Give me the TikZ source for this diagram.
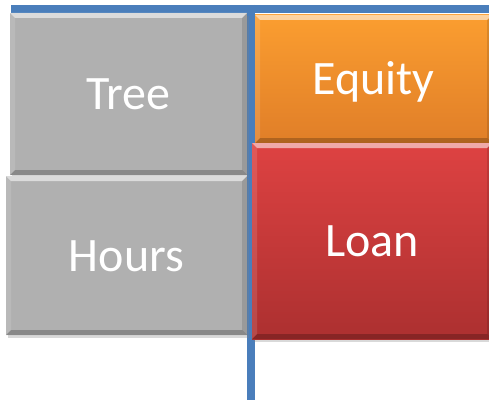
\documentclass[tikz,border=0pt]{standalone}
\usepackage{fontspec}
\setmainfont{Carlito}
\usetikzlibrary{shadows}
\usetikzlibrary{positioning}
\usetikzlibrary{calc}
\definecolor{lineblue}{RGB}{74,126,187}
\definecolor{boxgray}{RGB}{176,176,176}
\definecolor{orangetop}{RGB}{251,158,48}
\definecolor{orangebot}{RGB}{224,126,40}
\definecolor{redtop}{RGB}{222,66,66}
\definecolor{redbot}{RGB}{172,48,48}
\tikzstyle{bevel}=[path picture={
    \fill[white,opacity=0.55] (path picture bounding box.north west) -- (path picture bounding box.north east)
        -- ([xshift=-5pt,yshift=-5pt]path picture bounding box.north east) -- ([xshift=5pt,yshift=-5pt]path picture bounding box.north west) -- cycle;
    \fill[black,opacity=0.22] (path picture bounding box.south west) -- (path picture bounding box.south east)
        -- ([xshift=-5pt,yshift=5pt]path picture bounding box.south east) -- ([xshift=5pt,yshift=5pt]path picture bounding box.south west) -- cycle;
    \fill[black,opacity=0.12] (path picture bounding box.north east) -- (path picture bounding box.south east)
        -- ([xshift=-5pt,yshift=5pt]path picture bounding box.south east) -- ([xshift=-5pt,yshift=-5pt]path picture bounding box.north east) -- cycle;
    \fill[white,opacity=0.12] (path picture bounding box.north west) -- (path picture bounding box.south west)
        -- ([xshift=5pt,yshift=5pt]path picture bounding box.south west) -- ([xshift=5pt,yshift=-5pt]path picture bounding box.north west) -- cycle;
}]
\tikzstyle{block}=[rectangle,draw=none,inner sep=0pt,text=white,font=\fontsize{48}{52}\selectfont,
    text height=31pt,text depth=0pt,bevel,
    drop shadow={shadow xshift=2pt,shadow yshift=-3pt,opacity=0.3}]
\tikzstyle{graybox}=[block,fill=boxgray]
\tikzstyle{orangebox}=[block,top color=orangetop,bottom color=orangebot]
\tikzstyle{redbox}=[block,top color=redtop,bottom color=redbot]
\tikzstyle{axisline}=[draw=lineblue,line width=8pt]

\begin{document}
\begin{tikzpicture}[x=1pt,y=-1pt]
    \useasboundingbox (0,0) rectangle (489,401);

    % axes
    \coordinate (topleft) at (11,9);
    \coordinate (topright) at (489,9);
    \coordinate (midtop) at (251,5);
    \coordinate (midbot) at (251,400);
    \path[axisline] (topleft) -- (topright);
    \path[axisline] (midtop) -- (midbot);

    % left column
    \node[graybox,minimum width=237pt,minimum height=162pt] (tree) at (128.5,94) {Tree};
    \node[graybox,minimum width=241pt,minimum height=159pt] (hours) at (126.5,255.5) {Hours};

    % right column
    \node[orangebox,minimum width=237pt,minimum height=128pt] (equity) at (373.5,79) {Equity};
    \node[redbox,minimum width=240pt,minimum height=196pt] (loan) at (372,241) {Loan};

\end{tikzpicture}
\end{document}
